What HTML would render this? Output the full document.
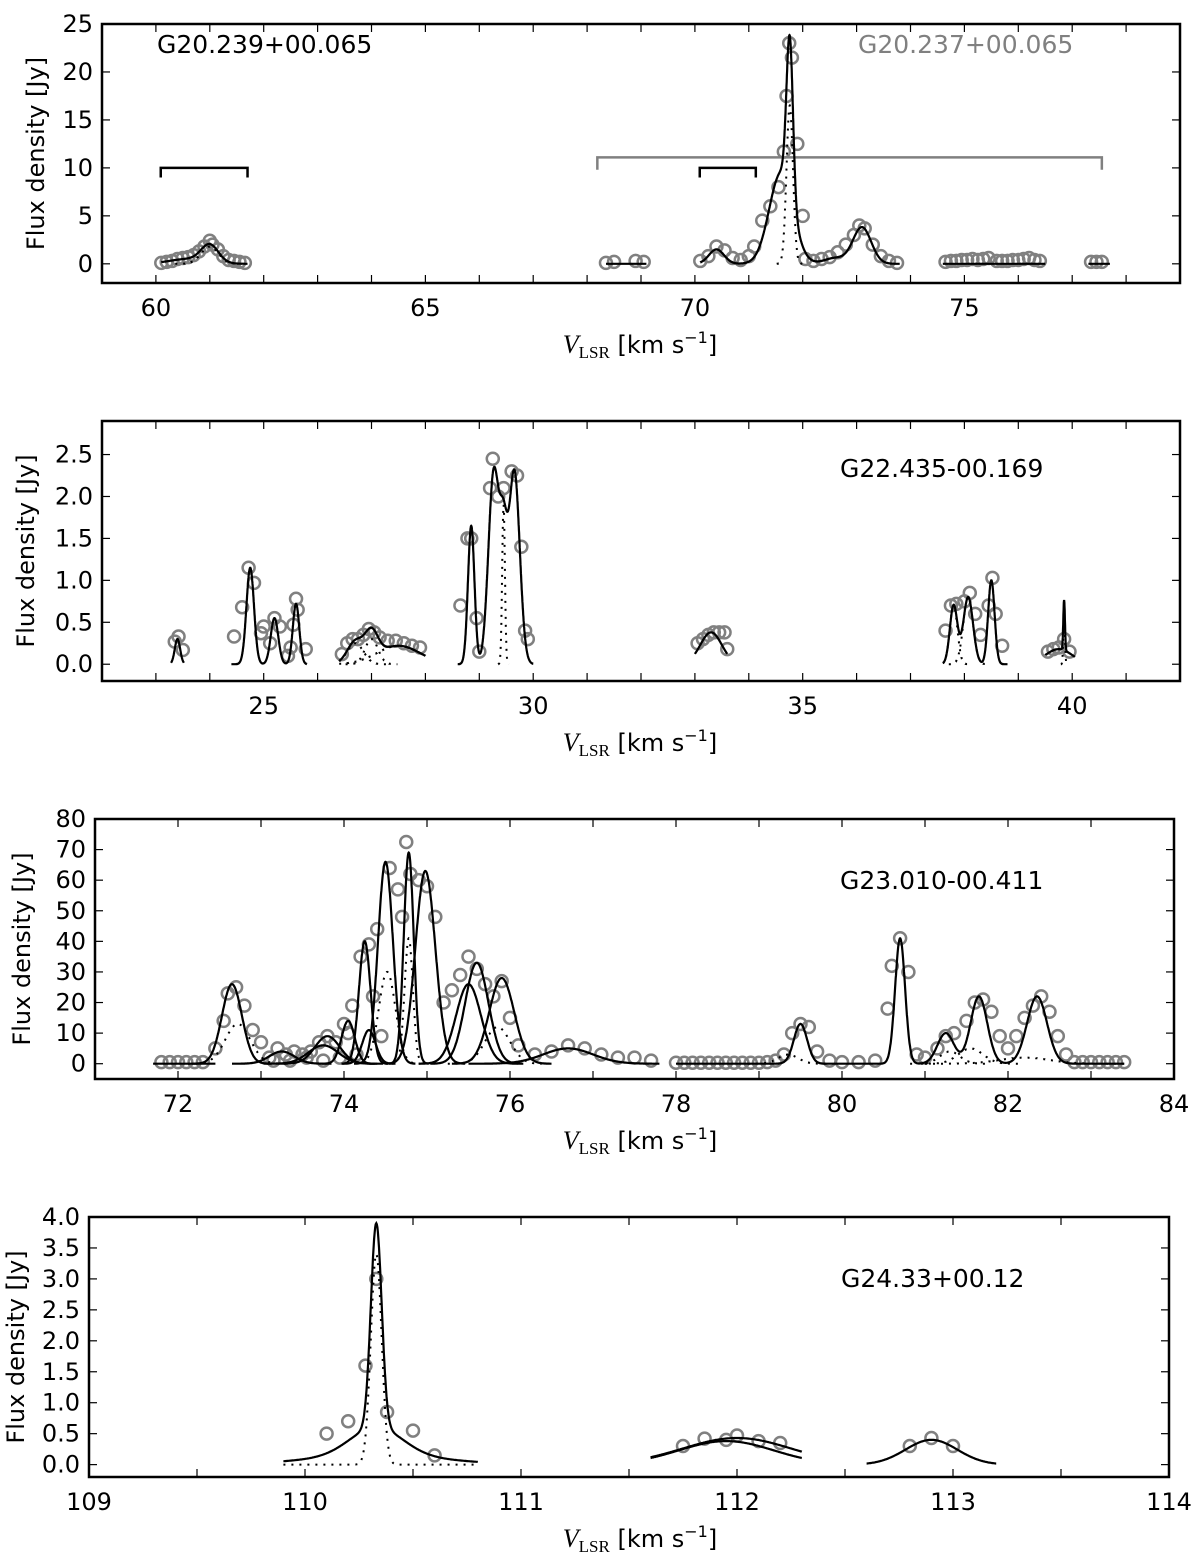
<!DOCTYPE html>
<html><head><meta charset="utf-8">
<style>
html,body{margin:0;padding:0;background:#fff;}
svg{display:block;font-family:"DejaVu Sans","Liberation Sans",sans-serif;}
</style></head>
<body>
<svg id="chart" width="1200" height="1561" viewBox="0 0 1200 1561" xmlns="http://www.w3.org/2000/svg"></svg>
<script>
// ---------- Panel 1 data: G20.239+00.065 ----------
const p1PointsX = [60.1,60.2,60.3,60.4,60.5,60.6,60.7,60.8,60.9,61.0,61.05,61.15,61.25,61.35,61.45,61.55,61.65,
  68.35,68.5,68.9,69.05,
  70.1,70.25,70.4,70.55,70.7,70.85,71.0,71.1,71.25,71.4,71.55,71.65,71.7,71.75,71.8,71.9,72.0,72.05,72.2,72.35,72.5,72.65,72.8,72.95,73.05,73.15,73.3,73.45,73.6,73.75,
  74.65,74.75,74.85,74.95,75.05,75.15,75.25,75.35,75.45,75.6,75.7,75.8,75.9,76.0,76.1,76.2,76.3,76.4,
  77.35,77.45,77.55];
const p1PointsY = [0.1,0.2,0.3,0.5,0.6,0.7,0.9,1.3,1.8,2.4,2.0,1.5,0.8,0.4,0.3,0.2,0.1,
  0.1,0.2,0.3,0.2,
  0.3,0.8,1.8,1.4,0.6,0.4,0.8,1.8,4.5,6.0,8.0,11.7,17.5,23.0,21.5,12.5,5.0,0.5,0.3,0.5,0.7,1.2,2.0,3.0,4.0,3.7,2.0,0.8,0.3,0.1,
  0.2,0.3,0.3,0.4,0.4,0.5,0.4,0.5,0.6,0.3,0.3,0.3,0.4,0.4,0.5,0.6,0.4,0.3,
  0.2,0.2,0.2];
const p1Centers = [60.6,61.0,70.4,71.6,71.76,72.6,73.1];
const p1Amps    = [0.5,1.8,1.5,9.5,16.5,0.6,3.8];
const p1Widths  = [0.35,0.16,0.14,0.22,0.06,0.2,0.17];
const p1Segments = [[60.1,61.7],[68.35,69.1],[70.1,73.8],[74.6,76.5],[77.3,77.7]];
const p1DottedIdx = [1,4];
// ---------- Panel 2 data: G22.435-00.169 ----------
const p2PointsX = [23.35,23.42,23.5,
  24.45,24.6,24.72,24.82,24.95,25.0,25.12,25.2,25.3,25.45,25.5,25.55,25.6,25.63,25.78,
  26.45,26.55,26.65,26.75,26.85,26.95,27.05,27.15,27.3,27.45,27.6,27.75,27.9,
  28.65,28.78,28.85,28.95,29.0,29.2,29.25,29.35,29.45,29.6,29.7,29.78,29.85,29.9,
  33.05,33.15,33.25,33.35,33.45,33.55,33.6,
  37.65,37.75,37.85,38.0,38.1,38.2,38.3,38.45,38.52,38.58,38.7,
  39.55,39.65,39.75,39.85,39.95];
const p2PointsY = [0.27,0.33,0.17,
  0.33,0.68,1.15,0.97,0.37,0.45,0.25,0.55,0.45,0.1,0.2,0.47,0.78,0.65,0.18,
  0.12,0.25,0.3,0.3,0.35,0.42,0.38,0.32,0.28,0.28,0.25,0.22,0.2,
  0.7,1.5,1.5,0.55,0.15,2.1,2.45,2.0,2.1,2.3,2.25,1.4,0.4,0.3,
  0.25,0.3,0.35,0.38,0.38,0.38,0.18,
  0.4,0.7,0.72,0.75,0.85,0.6,0.35,0.7,1.03,0.6,0.22,
  0.15,0.18,0.2,0.3,0.15];
const p2Centers = [23.4,24.75,25.2,25.6,26.7,27.0,27.5,28.85,29.27,29.45,29.65,33.3,37.8,38.07,38.5,39.75,39.85];
const p2Amps    = [0.3,1.15,0.55,0.72,0.25,0.3,0.22,1.65,2.3,1.2,2.3,0.38,0.7,0.8,1.0,0.18,0.6];
const p2Widths  = [0.05,0.07,0.07,0.06,0.15,0.12,0.4,0.06,0.1,0.07,0.1,0.2,0.07,0.09,0.06,0.25,0.015];
const p2Segments = [[23.28,23.52],[24.4,25.8],[26.4,28.0],[28.6,30.0],[33.0,33.6],[37.6,38.8],[39.5,40.05]];
const p2DottedIdx = [4,5,6,9,12,13,15,16];
const p2DottedAmps = [0.25,0.3,0.22,1.9,0.7,0.8,0.18,0.6];
const p2DottedWidths = [0.15,0.12,0.4,0.025,0.07,0.09,0.25,0.015];
// ---------- Panel 3 data: G23.010-00.411 ----------
const p3PointsX = [71.8,71.9,72.0,72.1,72.2,72.3,72.45,72.55,72.6,72.7,72.8,72.9,73.0,73.1,73.2,73.3,73.4,73.5,73.6,73.7,73.8,73.9,74.0,74.05,74.1,74.2,74.3,74.35,74.4,74.55,74.65,74.7,74.75,74.8,74.9,75.0,75.1,75.2,75.3,75.4,75.5,75.6,75.7,75.8,75.9,76.0,76.1,76.3,76.5,76.7,76.9,77.1,77.3,77.5,77.7,
  73.15,73.35,73.55,73.75,73.95,74.15,74.45,
  78.0,78.1,78.2,78.3,78.4,78.5,78.6,78.7,78.8,78.9,79.0,79.1,79.2,79.3,79.4,79.5,79.6,79.7,79.85,80.0,80.2,80.4,80.55,80.6,80.7,80.8,80.9,81.0,81.15,81.25,81.35,81.5,81.6,81.7,81.8,81.9,82.0,82.1,82.2,82.3,82.4,82.5,82.6,82.7,82.8,82.9,83.0,83.1,83.2,83.3,83.4];
const p3PointsY = [0.5,0.5,0.5,0.5,0.5,0.5,5,14,23,25,19,11,7,2,5,3,4,3,4,7,9,7,13,10,19,35,39,22,44,64,57,48,72.5,62,60,58,48,20,24,29,35,31,26,22,27,15,6,3,4,6,5,3,2,2,1,
  1,1,2,1,2,3,9,
  0.3,0.3,0.3,0.3,0.3,0.3,0.3,0.3,0.3,0.3,0.3,0.5,1,3,10,13,12,4,1,0.5,0.5,1,18,32,41,30,3,2,5,9,10,14,20,21,17,9,5,9,15,19,22,17,9,3,0.5,0.5,0.5,0.5,0.5,0.5,0.5];
const p3Centers = [72.65,72.72,73.25,73.8,73.75,74.05,74.25,74.3,74.5,74.52,74.78,74.78,74.98,75.5,75.6,75.9,75.85,76.7,
  79.5,79.35,80.7,81.25,81.3,81.65,81.55,82.35,82.2];
const p3Amps    = [26,13,4,9,6,14,40,11,66,30,69,41,63,26,33,28,12,5,
  13,3,41,10,4,22,5,22,2];
const p3Widths  = [0.12,0.15,0.15,0.15,0.18,0.08,0.07,0.08,0.09,0.1,0.06,0.05,0.12,0.15,0.14,0.15,0.15,0.3,
  0.08,0.12,0.06,0.1,0.12,0.1,0.15,0.12,0.3];
const p3DottedIdx = [1,9,11,16,19,22,24,26];
const p3Baselines = [[71.7,72.45],[78.0,83.4]];
// ---------- Panel 4 data: G24.33+00.12 ----------
const p4PointsX = [110.1,110.2,110.28,110.33,110.38,110.5,110.6,111.75,111.85,111.95,112.0,112.1,112.2,112.8,112.9,113.0];
const p4PointsY = [0.5,0.7,1.6,3.0,0.85,0.55,0.15,0.3,0.42,0.4,0.47,0.38,0.35,0.3,0.43,0.3];
const p4Centers = [110.33,110.33,110.33,112.0,111.95,112.9];
const p4Amps    = [3.3,0.45,0.15,0.43,0.38,0.4];
const p4Widths  = [0.025,0.12,0.3,0.25,0.22,0.12];
const p4Segments = [[109.9,110.8],[111.6,112.3],[112.6,113.2]];
const p4DottedIdx = [0];

const svg = document.getElementById('chart');
const NS = 'http://www.w3.org/2000/svg';
function mk(tag, attrs, parent){ const e=document.createElementNS(NS,tag); for(const k in attrs) e.setAttribute(k,attrs[k]); (parent||svg).appendChild(e); return e; }
function gauss(x,c,a,w){ return a*Math.exp(-0.5*((x-c)/w)*((x-c)/w)); }

function makeAxes(cfg){
  const g = mk('g',{});
  
  
  const sx = v => cfg.L + (v-cfg.x0)/(cfg.x1-cfg.x0)*(cfg.R-cfg.L);
  const sy = v => cfg.B - (v-cfg.y0)/(cfg.y1-cfg.y0)*(cfg.B-cfg.T);
  return {g,sx,sy};
}
function drawFrame(cfg,ax){
  const {g,sx,sy}=ax;
  const fr = mk('rect',{x:cfg.L,y:cfg.T,width:cfg.R-cfg.L,height:cfg.B-cfg.T,fill:'none',stroke:'#000','stroke-width':2.5},g);
  
  
  for(let i=0;i<cfg.xTicks.length;i++){
    const v=cfg.xTicks[i], x=sx(v);
    mk('line',{x1:x,y1:cfg.B,x2:x,y2:cfg.B-8,stroke:'#000','stroke-width':1.2},g);
    mk('line',{x1:x,y1:cfg.T,x2:x,y2:cfg.T+8,stroke:'#000','stroke-width':1.2},g);
  }
  for(let i=0;i<cfg.xLabels.length;i++){
    const t=mk('text',{x:sx(cfg.xLabels[i]),y:cfg.B+33,'font-size':24,'text-anchor':'middle'},g);
    t.textContent=cfg.xLabels[i];
    
    
  }
  for(let i=0;i<cfg.yTicks.length;i++){
    const v=cfg.yTicks[i], y=sy(v);
    mk('line',{x1:cfg.L,y1:y,x2:cfg.L+8,y2:y,stroke:'#000','stroke-width':1.2},g);
    mk('line',{x1:cfg.R,y1:y,x2:cfg.R-8,y2:y,stroke:'#000','stroke-width':1.2},g);
    const t=mk('text',{x:cfg.L-9,y:y+8,'font-size':24,'text-anchor':'end'},g);
    t.textContent=v.toFixed(cfg.yDec);
    
    
  }
  const yl=mk('text',{x:0,y:0,'font-size':24,'text-anchor':'middle',transform:`translate(${cfg.yLabX},${(cfg.T+cfg.B)/2}) rotate(-90)`},g);
  yl.textContent='Flux density [Jy]';
  
  
  const xl=mk('text',{x:640,y:cfg.B+70,'font-size':24,'text-anchor':'middle'},g);
  
  
  xl.innerHTML='<tspan font-family="Liberation Serif,serif" font-style="italic" font-size="26">V</tspan><tspan font-family="Liberation Serif,serif" font-size="17" dy="5">LSR</tspan><tspan dy="-5"> [km s</tspan><tspan font-size="16" dy="-10">−1</tspan><tspan dy="10">]</tspan>';
  const lt=mk('text',{x:cfg.labX,y:cfg.labY,'font-size':25,fill:'#000'},g);
  lt.textContent=cfg.label;
  
  
}
function pathFrom(xsArr,fn,ax,attrs,name){
  let d='';
  for(let i=0;i<xsArr.length;i++){ d+=(i?'L':'M')+ax.sx(xsArr[i]).toFixed(1)+','+ax.sy(fn(xsArr[i])).toFixed(1); }
  const p=mk('path',Object.assign({d:d,fill:'none'},attrs),ax.g);
  
  
  return p;
}
function grid(a,b){ const n=Math.max(20,Math.round((b-a)*400)); const r=[]; for(let i=0;i<=n;i++) r.push(a+(b-a)*i/n); return r; }
function segOf(segs,c){ for(const s of segs) if(c>=s[0]-0.3&&c<=s[1]+0.3) return s; return [c-1,c+1]; }
function drawSum(ax,segs,C,A,W){
  for(let s=0;s<segs.length;s++){
    const [a,b]=segs[s];
    pathFrom(grid(a,b),x=>{let v=0;for(let i=0;i<C.length;i++) if(C[i]>=a-0.3&&C[i]<=b+0.3) v+=gauss(x,C[i],A[i],W[i]);return v;},ax,{stroke:'#000','stroke-width':2.2},'fit-line');
  }
}
function drawComp(ax,c,a0,w,dotted,lo,hi){
  const a=Math.max(lo,c-4*w), b=Math.min(hi,c+4*w);
  pathFrom(grid(a,b),x=>gauss(x,c,a0,w),ax,dotted?{stroke:'#000','stroke-width':2,'stroke-dasharray':'2,6'}:{stroke:'#000','stroke-width':2.2},dotted?'component-dotted':'component-line');
}
function drawPoints(ax,X,Y){
  for(let i=0;i<X.length;i++){
    const c=mk('circle',{cx:ax.sx(X[i]),cy:ax.sy(Y[i]),r:6,fill:'none',stroke:'#808080','stroke-width':2.5},ax.g);
    
    
  }
}

// Panel 1
const c1={name:'panel-g20',L:102,R:1180,T:24,B:283,x0:59,x1:79,y0:-2,y1:25,xTicks:[59,60,61,62,63,64,65,66,67,68,69,70,71,72,73,74,75,76,77,78,79],xLabels:[60,65,70,75],yTicks:[0,5,10,15,20,25],yDec:0,yLabX:44,label:'G20.239+00.065',labX:157,labY:53};
const a1=makeAxes(c1); drawFrame(c1,a1);
const gl=mk('text',{x:858,y:53,'font-size':25,fill:'#808080'},a1.g); gl.textContent='G20.237+00.065';


const p1Brackets=[[60.09,61.7,10,9],[70.09,71.13,10,9],[68.19,77.55,11.1,9.8]];
const p1BracketColors=['#000','#000','#808080'];
for(let i=0;i<p1Brackets.length;i++){
  const [a,b,y,y2]=p1Brackets[i];
  const br=mk('path',{d:`M${a1.sx(a)},${a1.sy(y2)}L${a1.sx(a)},${a1.sy(y)}L${a1.sx(b)},${a1.sy(y)}L${a1.sx(b)},${a1.sy(y2)}`,fill:'none',stroke:p1BracketColors[i],'stroke-width':2.5},a1.g);
  
  
}
drawPoints(a1,p1PointsX,p1PointsY);
drawSum(a1,p1Segments,p1Centers,p1Amps,p1Widths);
for(const i of p1DottedIdx){ const s=segOf(p1Segments,p1Centers[i]); drawComp(a1,p1Centers[i],p1Amps[i],p1Widths[i],true,s[0],s[1]); }

// Panel 2
const c2={name:'panel-g22',L:102,R:1180,T:421,B:681,x0:22,x1:42,y0:-0.2,y1:2.9,xTicks:[22,23,24,25,26,27,28,29,30,31,32,33,34,35,36,37,38,39,40,41,42],xLabels:[25,30,35,40],yTicks:[0,0.5,1,1.5,2,2.5],yDec:1,yLabX:34,label:'G22.435-00.169',labX:840,labY:477};
const a2=makeAxes(c2); drawFrame(c2,a2);
drawPoints(a2,p2PointsX,p2PointsY);
drawSum(a2,p2Segments,p2Centers,p2Amps,p2Widths);
for(let k=0;k<p2DottedIdx.length;k++){ const i=p2DottedIdx[k]; const s=segOf(p2Segments,p2Centers[i]); drawComp(a2,p2Centers[i],p2DottedAmps[k],p2DottedWidths[k],true,s[0],s[1]); }

// Panel 3
const c3={name:'panel-g23',L:95,R:1174,T:819,B:1079,x0:71,x1:84,y0:-5,y1:80,xTicks:[71,72,73,74,75,76,77,78,79,80,81,82,83,84],xLabels:[72,74,76,78,80,82,84],yTicks:[0,10,20,30,40,50,60,70,80],yDec:0,yLabX:30,label:'G23.010-00.411',labX:840,labY:889};
const a3=makeAxes(c3); drawFrame(c3,a3);
drawPoints(a3,p3PointsX,p3PointsY);
for(let s=0;s<p3Baselines.length;s++){
  const [a,b]=p3Baselines[s];
  pathFrom(grid(a,b),x=>{let v=0;for(let i=0;i<p3Centers.length;i++) if(p3Centers[i]>=a&&p3Centers[i]<=b&&!p3DottedIdx.includes(i)) v+=gauss(x,p3Centers[i],p3Amps[i],p3Widths[i]);return v;},a3,{stroke:'#000','stroke-width':2.2},'fit-line');
}
for(let i=0;i<p3Centers.length;i++) if(p3Centers[i]<78) drawComp(a3,p3Centers[i],p3Amps[i],p3Widths[i],p3DottedIdx.includes(i),71.7,77.8);
for(let i=0;i<p3Centers.length;i++) if(p3Centers[i]>78 && p3DottedIdx.includes(i)) drawComp(a3,p3Centers[i],p3Amps[i],p3Widths[i],true,78,83.4);

// Panel 4
const c4={name:'panel-g24',L:89,R:1169,T:1217,B:1477,x0:109,x1:114,y0:-0.2,y1:4.0,xTicks:[109,109.5,110,110.5,111,111.5,112,112.5,113,113.5,114],xLabels:[109,110,111,112,113,114],yTicks:[0,0.5,1,1.5,2,2.5,3,3.5,4],yDec:1,yLabX:24,label:'G24.33+00.12',labX:841,labY:1287};
const a4=makeAxes(c4); drawFrame(c4,a4);
drawPoints(a4,p4PointsX,p4PointsY);
pathFrom(grid(109.9,110.8),x=>gauss(x,p4Centers[0],p4Amps[0],p4Widths[0])+gauss(x,p4Centers[1],p4Amps[1],p4Widths[1])+gauss(x,p4Centers[2],p4Amps[2],p4Widths[2]),a4,{stroke:'#000','stroke-width':2.2},'fit-line');
pathFrom(grid(109.9,110.8),x=>gauss(x,p4Centers[0],p4Amps[0]+0.1,p4Widths[0]),a4,{stroke:'#000','stroke-width':2,'stroke-dasharray':'2,6'},'component-dotted');
pathFrom(grid(111.6,112.3),x=>gauss(x,p4Centers[3],p4Amps[3],p4Widths[3]),a4,{stroke:'#000','stroke-width':2.2},'fit-line');
pathFrom(grid(111.6,112.3),x=>gauss(x,p4Centers[4],p4Amps[4],p4Widths[4]),a4,{stroke:'#000','stroke-width':2.2},'fit-line');
pathFrom(grid(112.6,113.2),x=>gauss(x,p4Centers[5],p4Amps[5],p4Widths[5]),a4,{stroke:'#000','stroke-width':2.2},'fit-line');
</script>
</body></html>
